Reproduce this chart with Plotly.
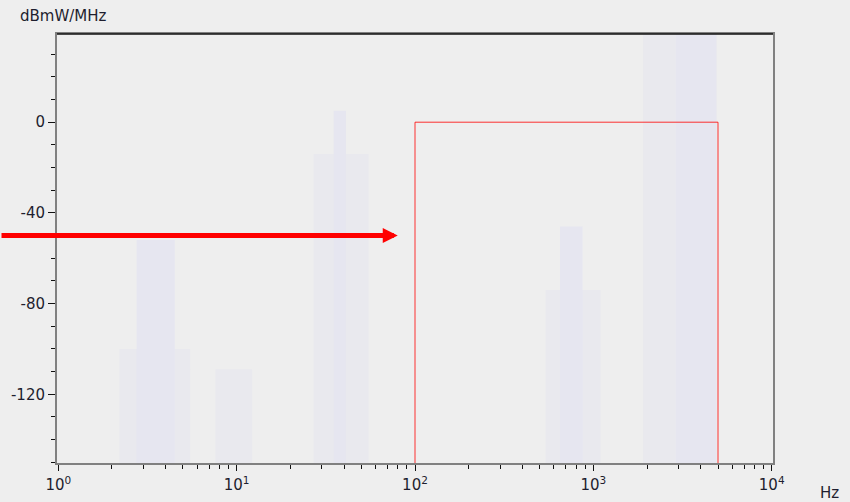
import numpy as np
import plotly.graph_objects as go

# ---- axes / ticks ----
x_tick_vals = [1, 10, 100, 1000, 10000]
x_tick_text = ["10<sup>0</sup>", "10<sup>1</sup>", "10<sup>2</sup>", "10<sup>3</sup>", "10<sup>4</sup>"]
y_tick_vals = [0, -40, -80, -120]
y_tick_text = ["0", "-40", "-80", "-120"]
x_range_log = [-0.0073, 4.0073]
y_range = [-150.3, 38.9]
y_unit = "dBmW/MHz"
x_unit = "Hz"

# ---- red band (mask) ----
band_lo_hz = 100
band_hi_hz = 5000
band_level_db = 0

# ---- red arrow ----
arrow_tip_hz = 80
arrow_level_db = -50

# ---- faint background spectrum (ghost) ----
ghost_base_lo = [2.2, 7.6, 27, 540, 1900]
ghost_base_hi = [5.5, 12.2, 55, 1100, 4900]
ghost_base_top = [-100, -109, -14, -74, 45]
ghost_core_lo = [2.75, 35, 650, 2900]
ghost_core_hi = [4.5, 41, 870, 4900]
ghost_core_top = [-52, 5, -46, 45]

W, H = 850, 502
ML, MR, MT, MB = 57, 77, 34, 39
PW = W - ML - MR
PH = H - MT - MB
px_per_dec = PW / (x_range_log[1] - x_range_log[0])

FONT = "DejaVu Sans"
TXT = "#1e1e2e"
BG = "#eeeeee"


def blocks(lo, hi, top, floor):
    xs, ys = [], []
    for a, b, t in zip(lo, hi, top):
        xs += [a, a, b, b, a, None]
        ys += [floor, t, t, floor, floor, None]
    return xs, ys


fig = go.Figure()
gx, gy = blocks(ghost_base_lo, ghost_base_hi, ghost_base_top, y_range[0])
fig.add_trace(go.Scatter(x=gx, y=gy, mode="lines", fill="toself", fillcolor="#e9e9ee",
                         line=dict(width=0), hoverinfo="skip", showlegend=False))
gx, gy = blocks(ghost_core_lo, ghost_core_hi, ghost_core_top, y_range[0])
fig.add_trace(go.Scatter(x=gx, y=gy, mode="lines", fill="toself", fillcolor="#e6e6f0",
                         line=dict(width=0), hoverinfo="skip", showlegend=False))

red = "rgba(255,0,0,0.8)"
for x0, y0, x1, y1 in [(band_lo_hz, y_range[0], band_lo_hz, band_level_db),
                       (band_lo_hz, band_level_db, band_hi_hz, band_level_db),
                       (band_hi_hz, band_level_db, band_hi_hz, y_range[0])]:
    fig.add_shape(type="line", xref="x", yref="y", x0=x0, y0=y0, x1=x1, y1=y1,
                  line=dict(color=red, width=1))

# top border in black
fig.add_shape(type="line", xref="paper", yref="paper", x0=0, x1=1, y0=1, y1=1,
              line=dict(color="#111111", width=1.5))

fig.add_annotation(x=np.log10(arrow_tip_hz), y=arrow_level_db, xref="x", yref="y",
                   ax=x_range_log[0] - ML / px_per_dec, ay=arrow_level_db,
                   axref="x", ayref="y", text="", showarrow=True,
                   arrowhead=2, arrowsize=0.6, arrowwidth=5, arrowcolor="#ff0000",
                   standoff=0, startstandoff=0)

fig.add_annotation(text=y_unit, xref="paper", yref="paper",
                   x=(18.2 - ML) / PW, y=(PH + MT - 16) / PH,
                   xanchor="left", yanchor="middle", showarrow=False,
                   font=dict(family=FONT, size=15, color=TXT))
fig.add_annotation(text=x_unit, xref="paper", yref="paper",
                   x=(818.2 - ML) / PW, y=(MT + PH - 493) / PH,
                   xanchor="left", yanchor="middle", showarrow=False,
                   font=dict(family=FONT, size=15, color=TXT))

minor_x = [m * 10 ** d for d in range(4) for m in range(2, 10)]

fig.update_layout(
    template="none",
    width=W, height=H,
    margin=dict(l=ML, r=MR, t=MT, b=MB, pad=0, autoexpand=False),
    paper_bgcolor=BG, plot_bgcolor=BG,
    showlegend=False,
    font=dict(family=FONT, size=15, color=TXT),
    xaxis=dict(type="log", range=x_range_log, tickmode="array",
               tickvals=x_tick_vals, ticktext=x_tick_text, automargin=False,
               ticks="outside", ticklen=6, tickwidth=1, tickcolor="#111111",
               ticklabelstandoff=1,
               showgrid=False, zeroline=False,
               showline=True, linecolor="#808080", linewidth=2, mirror=True,
               minor=dict(tickmode="array", tickvals=minor_x, ticks="outside",
                          ticklen=4, tickwidth=1, tickcolor="#111111", showgrid=False),
               tickfont=dict(family=FONT, size=15, color=TXT)),
    yaxis=dict(range=y_range, tickmode="array", tickvals=y_tick_vals, ticktext=y_tick_text,
               automargin=False,
               ticks="outside", ticklen=7, tickwidth=1, tickcolor="#111111",
               showgrid=False, zeroline=False,
               showline=True, linecolor="#808080", linewidth=2, mirror=True,
               minor=dict(dtick=10, tick0=0, ticks="outside", ticklen=4, tickwidth=1,
                          tickcolor="#111111", showgrid=False),
               tickfont=dict(family=FONT, size=15, color=TXT)),
)

fig.write_html(
    "out.html",
    config={"displayModeBar": False},
    post_script="document.body.style.margin='0';document.body.style.background='%s';" % BG,
)
